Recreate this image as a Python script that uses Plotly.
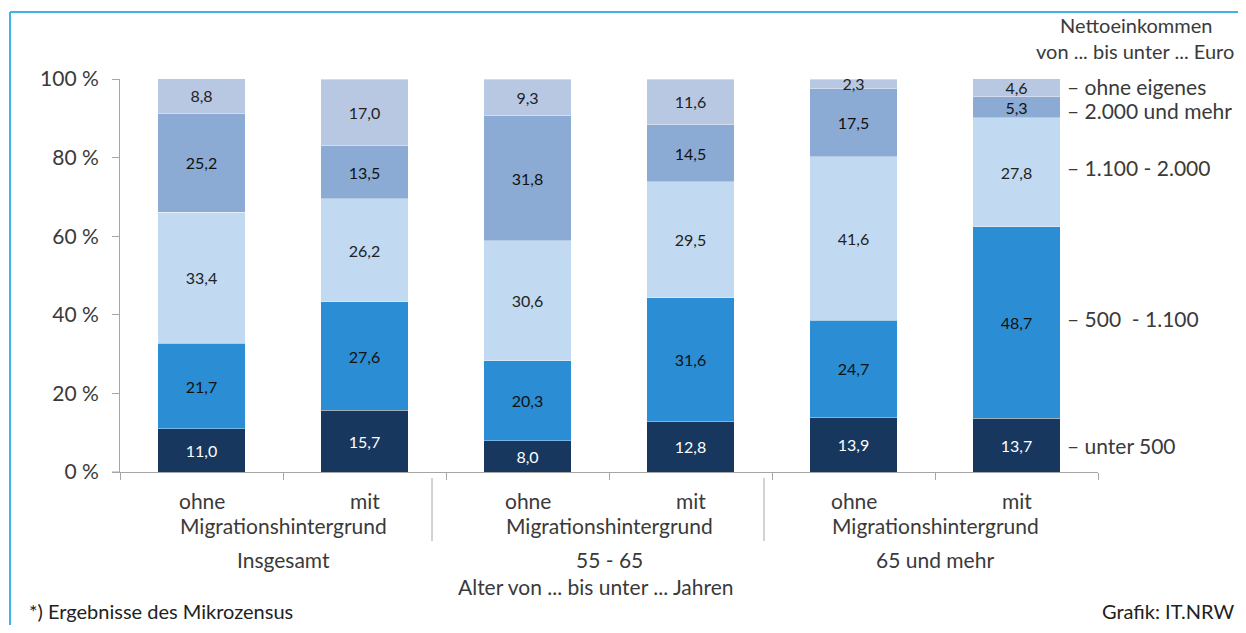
import plotly.graph_objects as go

# ---------------- data ----------------
bars = ["Insgesamt ohne", "Insgesamt mit", "55-65 ohne", "55-65 mit", "65+ ohne", "65+ mit"]
bar_short = ["ohne", "mit", "ohne", "mit", "ohne", "mit"]
groups = ["Insgesamt", "55 - 65", "65 und mehr"]

series_names = ["unter 500", "500  - 1.100", "1.100 - 2.000", "2.000 und mehr", "ohne eigenes"]
unter500 = [11.0, 15.7, 8.0, 12.8, 13.9, 13.7]
b500_1100 = [21.7, 27.6, 20.3, 31.6, 24.7, 48.7]
b1100_2000 = [33.4, 26.2, 30.6, 29.5, 41.6, 27.8]
b2000plus = [25.2, 13.5, 31.8, 14.5, 17.5, 5.3]
ohne_eigenes = [8.8, 17.0, 9.3, 11.6, 2.3, 4.6]

y_ticks = [0, 20, 40, 60, 80, 100]

series_values = [unter500, b500_1100, b1100_2000, b2000plus, ohne_eigenes]
colors = ["#17375e", "#2b8dd3", "#c1daf1", "#8babd4", "#b9c8e2"]
text_colors = ["#ffffff", "#111111", "#222222", "#111111", "#222222"]

# ---------------- layout geometry (screen pixels) ----------------
OFF = 8                      # page body margin of the exported html
W, H = 1246 - 2 * OFF, 633 - 2 * OFF
X0, X1 = 120, 1098           # plot area left/right on screen
Y100, Y0 = 79, 472           # 100 % and 0 % rows on screen

def px(x):
    return (x - X0) / (X1 - X0)

def py(y):
    return (Y0 - y) / (Y0 - Y100)

FONT = "Lato"
TXT = "#3a3a3a"
FS = 21

fig = go.Figure()
xs = list(range(len(bars)))
for name, vals, col, tcol in zip(series_names, series_values, colors, text_colors):
    fig.add_trace(go.Bar(
        x=xs, y=vals, name=name,
        marker=dict(color=col, line=dict(color="rgba(255,255,255,0.6)", width=0.6)),
        width=0.535,
        text=[f"{v:.1f}".replace(".", ",") for v in vals],
        textposition="inside", insidetextanchor="middle",
        textfont=dict(family=FONT, size=16, color=tcol),
        constraintext="none",
        hoverinfo="skip",
    ))

fig.update_layout(
    barmode="stack",
    width=W, height=H,
    margin=dict(l=X0 - OFF, r=(OFF + W) - X1, t=Y100 - OFF, b=(OFF + H) - Y0, pad=0),
    paper_bgcolor="white", plot_bgcolor="white",
    showlegend=False,
    font=dict(family=FONT, color=TXT),
    uniformtext=dict(minsize=8, mode="show"),
)
fig.update_xaxes(
    range=[-0.5, len(bars) - 0.5],
    tickvals=[i - 0.5 for i in range(len(bars) + 1)],
    showticklabels=False,
    ticks="outside", ticklen=7, tickcolor="#a6a6a6", tickwidth=1,
    showline=True, linecolor="#a6a6a6", linewidth=1,
    showgrid=False, zeroline=False,
)
fig.update_yaxes(
    range=[0, 100],
    tickvals=y_ticks,
    ticktext=[f"{t} %" for t in y_ticks],
    tickfont=dict(family=FONT, size=FS, color=TXT),
    ticks="outside", ticklen=7, tickcolor="#a6a6a6", tickwidth=1,
    ticklabelstandoff=9,
    showline=True, linecolor="#a6a6a6", linewidth=1,
    showgrid=False, zeroline=False,
)

def note(x, y, text, xref="paper", anchor="center", color=TXT, size=FS, yanchor="middle"):
    return dict(x=x, xref=xref, y=py(y), yref="paper", text=text, showarrow=False,
                font=dict(size=size, color=color), xanchor=anchor, yanchor=yanchor)

ann = []
for i, lab in enumerate(bar_short):
    ann.append(note(i, 500, lab, xref="x"))
for g, gl in enumerate(groups):
    ann.append(note(2 * g + 0.5, 525, "Migrationshintergrund", xref="x"))
    ann.append(note(2 * g + 0.5, 559, gl, xref="x"))
ann.append(note(px(596), 586, "Alter von ... bis unter ... Jahren"))

legend_y = [445, 318, 167, 110, 87]
for name, yy in zip(series_names, legend_y):
    ann.append(note(px(1065), yy, "– " + name.replace("  ", "&nbsp; "), anchor="left"))
ann.append(note(px(1136), 25, "Nettoeinkommen", size=20))
ann.append(note(px(1236), 51, "von ... bis unter ... Euro", anchor="right", size=20))

ann.append(note(px(27), 625, "*) Ergebnisse des Mikrozensus", anchor="left", color="#222222",
                size=20, yanchor="bottom"))
ann.append(note(px(1236), 625, "Grafik: IT.NRW", anchor="right", color="#222222",
                size=20, yanchor="bottom"))
fig.update_layout(annotations=ann)

shapes = []
for xd in [432, 764]:
    shapes.append(dict(type="line", xref="paper", yref="paper", x0=px(xd), x1=px(xd), y0=py(478), y1=py(541),
                       line=dict(color="#a6a6a6", width=1)))
shapes.append(dict(type="line", xref="paper", yref="paper", x0=px(112), x1=px(120), y0=py(472), y1=py(472),
                   line=dict(color="#a6a6a6", width=1)))
shapes.append(dict(type="line", xref="paper", yref="paper", x0=px(10), x1=px(1260), y0=py(12), y1=py(12),
                   line=dict(color="#3fb3e8", width=2)))
shapes.append(dict(type="line", xref="paper", yref="paper", x0=px(10), x1=px(10), y0=py(12), y1=py(650),
                   line=dict(color="#3fb3e8", width=2)))
fig.update_layout(shapes=shapes)

fig.write_html("out.html")
